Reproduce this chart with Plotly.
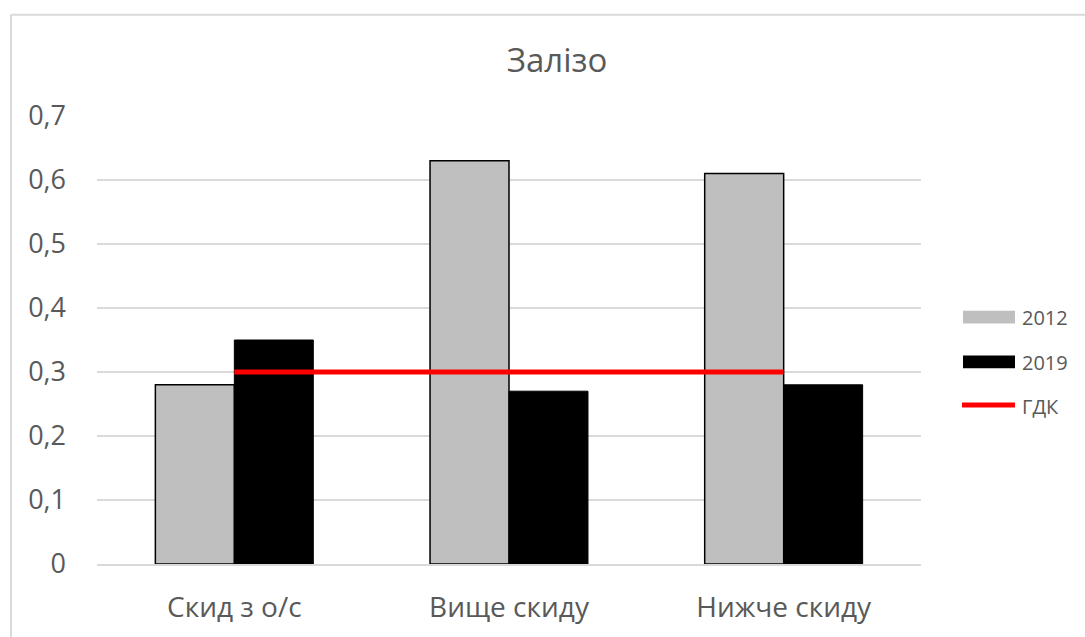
import plotly.graph_objects as go

# Iron concentration by sampling point
categories = ["Скид з о/с", "Вище скиду", "Нижче скиду"]
values_2012 = [0.28, 0.63, 0.61]
values_2019 = [0.35, 0.27, 0.28]
gdk_values = [0.3, 0.3, 0.3]
series_names = ["2012", "2019", "ГДК"]
y_ticks = [0, 0.1, 0.2, 0.3, 0.4, 0.5, 0.6, 0.7]
y_tick_text = ["0", "0,1", "0,2", "0,3", "0,4", "0,5", "0,6", "0,7"]

W, H = 1085, 637
L, R, T, B = 97, 921, 116, 567  # plot area in pixels
FONT = "Open Sans"
TEXT = "#595959"
GRID = "#d9d9d9"
GREY = "#bfbfbf"


def px(x):
    return (x - L) / (R - L)


def py(y):
    return (B - y) / (B - T)


fig = go.Figure()
fig.add_trace(go.Bar(x=categories, y=values_2012, name=series_names[0],
                     marker=dict(color=GREY, line=dict(color="#000000", width=1.5)),
                     showlegend=False))
fig.add_trace(go.Bar(x=categories, y=values_2019, name=series_names[1],
                     marker=dict(color="#000000", line=dict(color="#000000", width=1)),
                     showlegend=False))
fig.add_trace(go.Scatter(x=categories, y=gdk_values, name=series_names[2], mode="lines",
                         line=dict(color="#ff0000", width=5), showlegend=False))

shapes = [
    # chart border (left and top edges)
    dict(type="line", xref="paper", yref="paper", x0=px(11), x1=px(11), y0=py(14), y1=py(700),
         line=dict(color=GRID, width=2)),
    dict(type="line", xref="paper", yref="paper", x0=px(11), x1=px(1200), y0=py(14), y1=py(14),
         line=dict(color=GRID, width=2)),
    # legend swatches
    dict(type="rect", xref="paper", yref="paper", x0=px(963), x1=px(1015), y0=py(312), y1=py(325),
         fillcolor=GREY, line=dict(width=0)),
    dict(type="rect", xref="paper", yref="paper", x0=px(963), x1=px(1015), y0=py(357), y1=py(370),
         fillcolor="#000000", line=dict(width=0)),
    dict(type="line", xref="paper", yref="paper", x0=px(962), x1=px(1015), y0=py(407), y1=py(407),
         line=dict(color="#ff0000", width=5)),
]

annotations = []
for name, yc in zip(series_names, [319, 364, 408]):
    annotations.append(dict(text=name, xref="paper", yref="paper", x=px(1020), y=py(yc),
                            xanchor="left", yanchor="middle", showarrow=False,
                            font=dict(family=FONT, size=20, color=TEXT)))

fig.update_layout(
    width=W, height=H,
    margin=dict(l=L, r=W - R, t=T, b=H - B, pad=0),
    paper_bgcolor="white", plot_bgcolor="white",
    separators=", ",
    barmode="group", bargap=0.425, bargroupgap=0,
    title=dict(text="Залізо", x=557 / W, xanchor="center", y=1 - 60 / H, yanchor="middle",
               font=dict(family=FONT, size=33, color=TEXT)),
    font=dict(family=FONT, color=TEXT),
    shapes=shapes, annotations=annotations,
    showlegend=False,
)
fig.update_xaxes(showline=True, linecolor=GRID, linewidth=1.5, ticks="",
                 tickfont=dict(family=FONT, size=28, color=TEXT), ticklabelstandoff=18)
fig.update_yaxes(range=[0, 0.7], tickmode="array", tickvals=y_ticks, ticktext=y_tick_text,
                 showgrid=True, gridcolor=GRID, gridwidth=1.5, zeroline=False, showline=False,
                 ticks="", tickfont=dict(family=FONT, size=27, color=TEXT), ticklabelstandoff=30)

fig.write_html("out.html")
